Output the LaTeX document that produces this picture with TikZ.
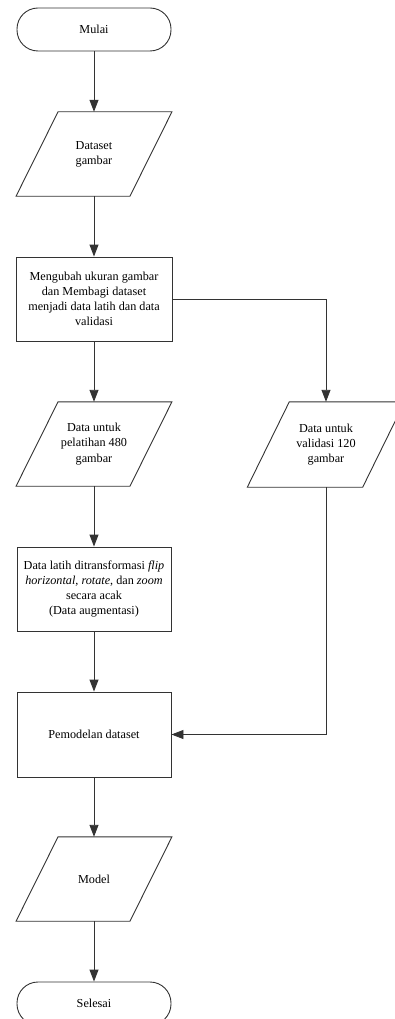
\documentclass[tikz,border=0pt]{standalone}
\usepackage{fontspec}
\setmainfont{Liberation Serif}
\usetikzlibrary{arrows.meta}
\begin{document}
\begin{tikzpicture}[x=1pt,y=-1pt,
  lines/.style={draw=black!80,line width=0.9pt},
  txt/.style={align=center,inner sep=0pt,font=\fontsize{12.2}{15.2}\selectfont},
  term/.style={txt,lines,rectangle,rounded corners=21pt,minimum width=154pt,minimum height=43pt},
  procbox/.style={txt,lines,rectangle,minimum width=154pt,minimum height=84pt},
  para/.style={txt,minimum width=113.5pt,minimum height=84pt},
  conn/.style={lines,-{Triangle[length=12pt,width=9pt]}}
]
\useasboundingbox (0,0) rectangle (395,1019);
\newcommand{\parashape}[1]{%
  \draw[lines] ([xshift=21pt]#1.north west) -- ([xshift=21pt]#1.north east)
    -- ([xshift=-21pt]#1.south east) -- ([xshift=-21pt]#1.south west) -- cycle;}

\node[term] (mulai) at (94,29.5) {Mulai};
\node[para] (d1) at (94,154) {Dataset\\gambar};
\parashape{d1}
\node[procbox,minimum width=156pt] (b1) at (94,299) {Mengubah ukuran gambar\\dan Membagi dataset\\menjadi data latih dan data\\validasi};
\node[para] (p1) at (94,444) {Data untuk\\pelatihan 480\\gambar};
\parashape{p1}
\node[para,minimum width=115pt,minimum height=85pt] (p2) at (326,444.5) {Data untuk\\validasi 120\\gambar};
\parashape{p2}
\node[procbox] (b2) at (94,589) {Data latih ditransformasi \textit{flip}\\\textit{horizontal}, \textit{rotate}, dan \textit{zoom}\\secara acak\\(Data augmentasi)};
\node[procbox,minimum height=85pt] (b3) at (94,734.5) {Pemodelan dataset};
\node[para] (m) at (94,879) {Model};
\parashape{m}
\node[term] (selesai) at (94,1003.5) {Selesai};

\draw[conn] (mulai.south) -- (d1.north);
\draw[conn] (d1.south) -- (b1.north);
\draw[conn] (b1.south) -- (p1.north);
\draw[conn] (b1.east) -| (p2.north);
\draw[conn] (p1.south) -- (b2.north);
\draw[conn] (b2.south) -- (b3.north);
\draw[conn] (p2.south) |- (b3.east);
\draw[conn] (b3.south) -- (m.north);
\draw[conn] (m.south) -- (selesai.north);
\end{tikzpicture}
\end{document}
